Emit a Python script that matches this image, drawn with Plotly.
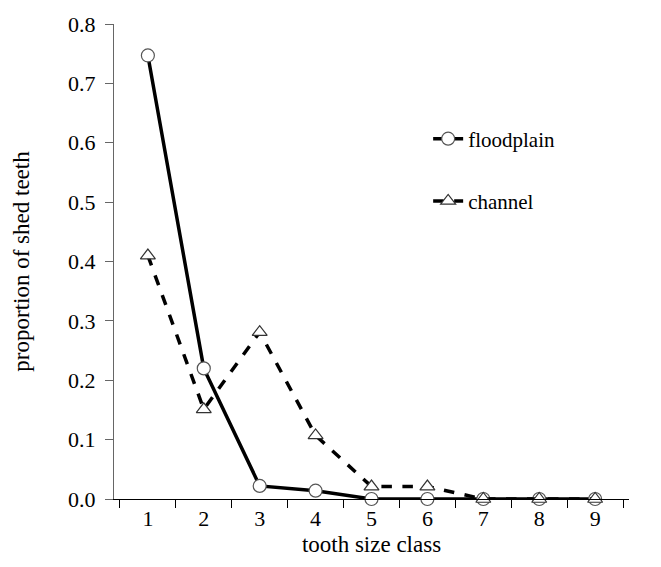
import plotly.graph_objects as go

classes = ["1", "2", "3", "4", "5", "6", "7", "8", "9"]
floodplain = [0.747, 0.220, 0.022, 0.014, 0.0, 0.0, 0.0, 0.0, 0.0]
channel = [0.410, 0.151, 0.281, 0.107, 0.021, 0.021, 0.0, 0.0, 0.0]
y_ticks = [0.0, 0.1, 0.2, 0.3, 0.4, 0.5, 0.6, 0.7, 0.8]
y_labels = ["0.0", "0.1", "0.2", "0.3", "0.4", "0.5", "0.6", "0.7", "0.8"]

FONT = "Liberation Serif"

fig = go.Figure()
fig.add_trace(go.Scatter(
    x=classes, y=floodplain, name="floodplain", mode="lines+markers",
    legendgroup="a",
    line=dict(color="black", width=3.5),
    marker=dict(symbol="circle", size=13, color="white",
                line=dict(color="#555555", width=1.2)),
    cliponaxis=False,
))
fig.add_trace(go.Scatter(
    x=classes, y=channel, name="channel", mode="lines+markers",
    legendgroup="b",
    line=dict(color="black", width=3.5, dash="dash"),
    marker=dict(symbol="triangle-up", size=13, color="white",
                line=dict(color="#333333", width=1.2)),
    cliponaxis=False,
))

fig.update_layout(
    width=661, height=567,
    margin=dict(l=114, r=32, t=20, b=68),
    paper_bgcolor="white", plot_bgcolor="white",
    font=dict(family=FONT, size=22, color="black"),
    showlegend=True,
    legend=dict(x=0.61, y=0.801, xanchor="left", yanchor="top",
                bgcolor="rgba(0,0,0,0)", tracegroupgap=32,
                font=dict(family=FONT, size=21, color="black")),
    xaxis=dict(
        type="category", tickson="boundaries",
        showline=True, linecolor="black", linewidth=1,
        ticks="outside", ticklen=8, tickcolor="black",
        showgrid=False, zeroline=False,
        tickfont=dict(family=FONT, size=22),
        title=dict(text="tooth size class", font=dict(family=FONT, size=23), standoff=5),
    ),
    yaxis=dict(
        range=[0, 0.8], tickvals=y_ticks, ticktext=y_labels,
        showline=True, linecolor="#666666", linewidth=1,
        ticks="outside", ticklen=8, tickcolor="#666666",
        ticklabelstandoff=5,
        showgrid=False, zeroline=False,
        tickfont=dict(family=FONT, size=22),
        title=dict(text="proportion of shed teeth", font=dict(family=FONT, size=23), standoff=32),
    ),
)

fig.write_html("out.html")
